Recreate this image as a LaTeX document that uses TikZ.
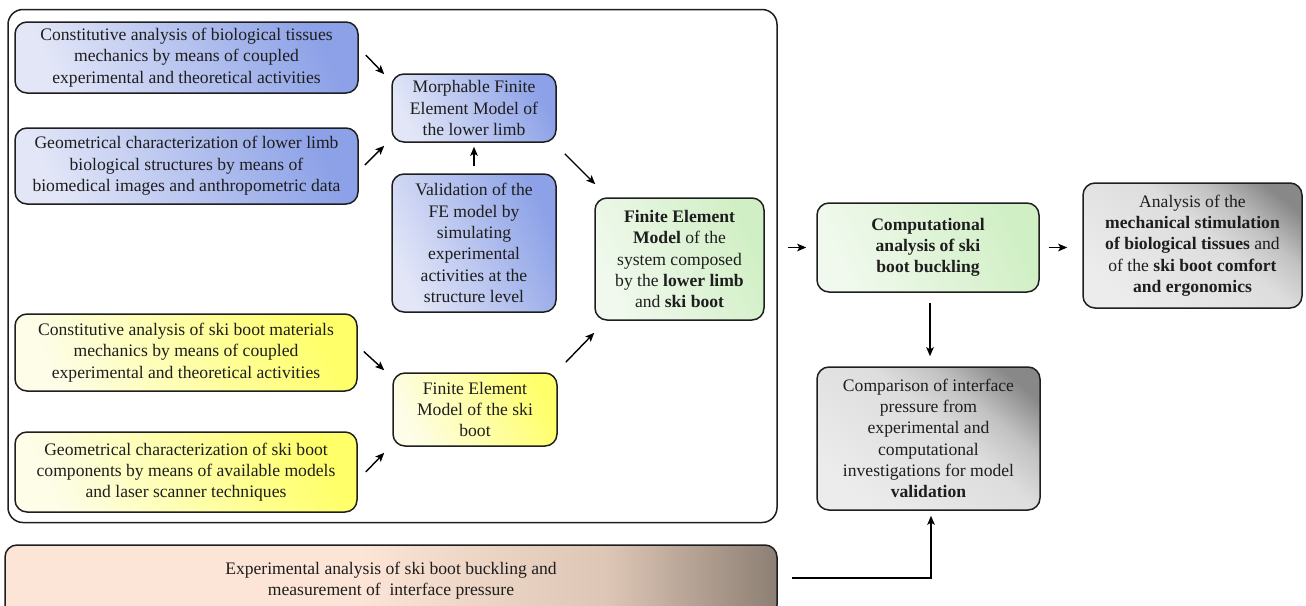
\documentclass[tikz,border=0pt]{standalone}
\usepackage{fontspec}
\setmainfont{Liberation Serif}
\usetikzlibrary{arrows.meta,calc}
\definecolor{bluelight}{HTML}{E2E6F7}
\definecolor{bluedark}{HTML}{8CA1E7}
\definecolor{greenlight}{HTML}{F1F9EE}
\definecolor{greendark}{HTML}{D0EFC4}
\definecolor{yellowlight}{HTML}{FDFDE8}
\definecolor{yellowdark}{HTML}{FFFF6A}
\definecolor{graylight}{HTML}{ECECEC}
\definecolor{graymid}{HTML}{DDDDDD}
\definecolor{graymid2}{HTML}{C2C2C2}
\definecolor{graydark}{HTML}{888888}
\definecolor{peachlight}{HTML}{FCE4D6}
\definecolor{peachmid}{HTML}{DEC6B6}
\definecolor{peachdark}{HTML}{8C7F73}
\definecolor{inkc}{HTML}{1E1E1E}
\pgfdeclarehorizontalshading{blueshade}{100bp}{color(0bp)=(bluelight); color(25bp)=(bluelight); color(75bp)=(bluedark); color(100bp)=(bluedark)}
\pgfdeclarehorizontalshading{greenshade}{100bp}{color(0bp)=(greenlight); color(25bp)=(greenlight); color(75bp)=(greendark); color(100bp)=(greendark)}
\pgfdeclarehorizontalshading{yellowshade}{100bp}{color(0bp)=(yellowlight); color(25bp)=(yellowlight); color(75bp)=(yellowdark); color(100bp)=(yellowdark)}
\pgfdeclarehorizontalshading{grayshade}{100bp}{color(0bp)=(graylight); color(25bp)=(graylight); color(55bp)=(graymid); color(66bp)=(graymid2); color(78bp)=(graydark); color(100bp)=(graydark)}
\pgfdeclarehorizontalshading{peachshade}{100bp}{color(0bp)=(peachlight); color(25bp)=(peachlight); color(48bp)=(peachlight); color(64bp)=(peachmid); color(75bp)=(peachdark); color(100bp)=(peachdark)}
\begin{document}
\begin{tikzpicture}[x=1pt,y=-1pt,
  box/.style={draw=inkc, line width=1.5pt, rounded corners=12pt, align=center, inner sep=0pt,
    text=inkc, font=\fontsize{17.6}{21.3}\selectfont},
  bluebox/.style={box, shade, shading=blueshade, shading angle=25},
  greenbox/.style={box, shade, shading=greenshade, shading angle=25},
  yellowbox/.style={box, shade, shading=yellowshade, shading angle=25},
  graybox/.style={box, shade, shading=grayshade, shading angle=50},
  peachbox/.style={box, shade, shading=peachshade, shading angle=0},
  framebox/.style={draw=inkc, line width=1.5pt, rounded corners=15pt, inner sep=0pt},
  arr/.style={draw=black, line width=1.4pt, -{Stealth[length=9pt,width=7.5pt,inset=2pt]}}
]
\useasboundingbox (0,0) rectangle (1306,605);
\begin{scope}
\clip (0,0) rectangle (1306,605);
\node[framebox, minimum width=769, minimum height=513] (F) at (392.5,266) {};
\node[bluebox, minimum width=343, minimum height=71] (B1) at (186.5,57.5)
  {Constitutive analysis of biological tissues\\mechanics by means of coupled\\experimental and theoretical activities};
\node[bluebox, minimum width=343, minimum height=76] (B2) at (186.5,166)
  {Geometrical characterization of lower limb\\biological structures by means of\\biomedical images and anthropometric data};
\node[bluebox, minimum width=164, minimum height=68] (M) at (474,108)
  {Morphable Finite\\Element Model of\\the lower limb};
\node[bluebox, minimum width=164, minimum height=138] (V) at (474,243)
  {Validation of the\\FE model by\\simulating\\experimental\\activities at the\\structure level};
\node[greenbox, minimum width=169, minimum height=122] (FEM) at (679.5,259)
  {\textbf{Finite Element}\\\textbf{Model} of the\\system composed\\by the \textbf{lower limb}\\and \textbf{ski boot}};
\node[yellowbox, minimum width=342, minimum height=77] (Y1) at (186,352.5)
  {Constitutive analysis of ski boot materials\\mechanics by means of coupled\\experimental and theoretical activities};
\node[yellowbox, minimum width=342, minimum height=80] (Y2) at (186,472)
  {Geometrical characterization of ski boot\\components by means of available models\\and laser scanner techniques};
\node[yellowbox, minimum width=164, minimum height=73] (FB) at (475,409.5)
  {Finite Element\\Model of the ski\\boot};
\node[greenbox, minimum width=222, minimum height=89] (C) at (928,247.5)
  {\textbf{Computational}\\\textbf{analysis of ski}\\\textbf{boot buckling}};
\node[graybox, minimum width=219, minimum height=125] (A) at (1192.5,245.5)
  {Analysis of the\\\textbf{mechanical stimulation}\\\textbf{of biological tissues} and\\of the \textbf{ski boot comfort}\\\textbf{and ergonomics}};
\node[graybox, minimum width=223, minimum height=143] (Comp) at (928.5,438.5)
  {Comparison of interface\\pressure from\\experimental and\\computational\\investigations for model\\\textbf{validation}};
\node[peachbox, minimum width=772, minimum height=72] (E) at (391,581)
  {Experimental analysis of ski boot buckling and\\measurement of \ interface pressure};
\end{scope}
\draw[arr] ($(B1.east)+(7,-2.5)$) -- ($(M.north west)+(-7,1)$);
\draw[arr] ($(B2.east)+(6,-1)$) -- ($(M.south west)+(-7,3)$);
\draw[arr] ($(V.north)+(0,-7)$) -- ($(M.south)+(0,4)$);
\draw[arr] ($(M.south east)+(8,11)$) -- ($(FEM.north west)+(1,-13)$);
\draw[arr] ($(Y1.east)+(6,-1)$) -- ($(FB.north west)+(-8,-2)$);
\draw[arr] ($(Y2.east)+(8,0)$) -- ($(FB.south west)+(-8,6)$);
\draw[arr] ($(FB.north east)+(8,-10)$) -- ($(FEM.south west)+(0,12)$);
\draw[arr] ($(F.east |- C.west)+(10,0)$) -- ($(C.west)+(-10,0)$);
\draw[arr] ($(C.east)+(9,0)$) -- ($(A.west |- C.east)+(-15,0)$);
\draw[arr] ($(C.south)+(2,10)$) -- ($(Comp.north)+(1.5,-10)$);
\draw[arr] ($(E.east)+(14,-3)$) -| ($(Comp.south)+(2.5,5)$);
\end{tikzpicture}
\end{document}
